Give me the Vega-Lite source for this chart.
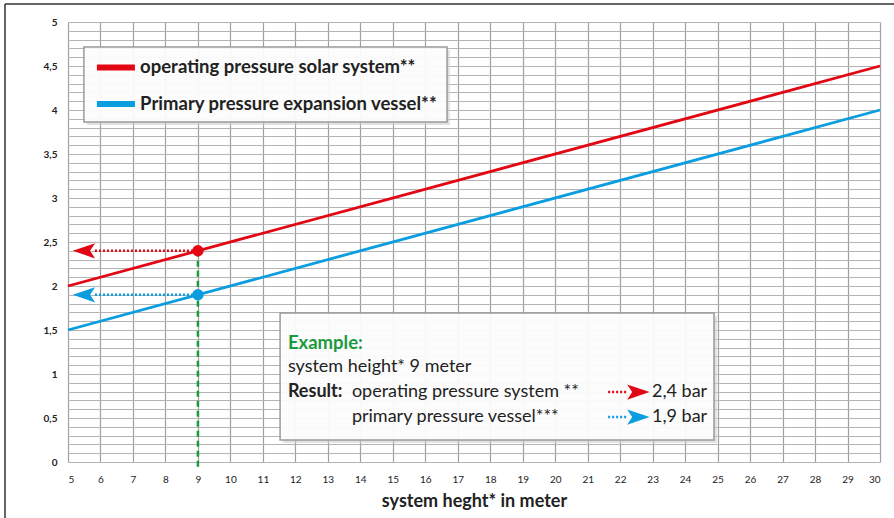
{
  "$schema": "https://vega.github.io/schema/vega-lite/v6.json",
  "width": 812,
  "height": 440,
  "autosize": {"type": "none"},
  "padding": {"left": 68, "top": 22, "right": 14, "bottom": 56},
  "background": "white",
  "config": {"font": "Lato", "view": {"stroke": null}},
  "encoding": {
    "x": {
      "field": "x", "type": "quantitative",
      "scale": {"domain": [5, 30], "nice": false, "zero": false},
      "axis": {
        "values": [5,6,7,8,9,10,11,12,13,14,15,16,17,18,19,20,21,22,23,24,25,26,27,28,29,30],
        "grid": true, "gridColor": "#a0a0a0", "gridWidth": 1.2,
        "ticks": false, "domain": false,
        "labelFontSize": 10, "labelColor": "#222", "labelPadding": 12,
        "title": "system heght* in meter", "titleFontSize": 18, "titleFontWeight": "bold",
        "titleColor": "#222", "titlePadding": 8
      }
    },
    "y": {
      "field": "y", "type": "quantitative",
      "scale": {"domain": [0, 5], "nice": false, "zero": false},
      "axis": {
        "values": [0,0.1,0.2,0.3,0.4,0.5,0.6,0.7,0.8,0.9,1,1.1,1.2,1.3,1.4,1.5,1.6,1.7,1.8,1.9,2,2.1,2.2,2.3,2.4,2.5,2.6,2.7,2.8,2.9,3,3.1,3.2,3.3,3.4,3.5,3.6,3.7,3.8,3.9,4,4.1,4.2,4.3,4.4,4.5,4.6,4.7,4.8,4.9,5],
        "labelExpr": "abs(datum.value*2 - round(datum.value*2)) < 0.001 ? replace(format(datum.value, '.1~f'), '.', ',') : ''",
        "grid": true, "gridColor": "#b4b4b4", "gridWidth": 1,
        "ticks": false, "domain": false,
        "labelFontSize": 10, "labelFontWeight": "bold", "labelColor": "#222", "labelPadding": 11,
        "title": null
      }
    }
  },
  "layer": [
    {
      "data": {"values": [{"x": 3.06, "y": 5.205, "y2": -0.8}]},
      "mark": {"type": "rule", "color": "#333", "strokeWidth": 1.5},
      "encoding": {"y2": {"field": "y2"}}
    },
    {
      "data": {"values": [{"x": 3.06, "x2": 31.5, "y": 5.205}]},
      "mark": {"type": "rule", "color": "#333", "strokeWidth": 1.5},
      "encoding": {"x2": {"field": "x2"}}
    },
    {
      "data": {"values": [
        {"x": 5.58, "x2": 16.76, "y": 4.682, "y2": 3.83},
        {"x": 11.62, "x2": 24.98, "y": 1.659, "y2": 0.216}
      ]},
      "mark": {"type": "rect", "fill": "#cfcfcf", "opacity": 0.6},
      "encoding": {"x2": {"field": "x2"}, "y2": {"field": "y2"}}
    },
    {
      "data": {"values": [
        {"x": 5.49, "x2": 16.67, "y": 4.716, "y2": 3.864},
        {"x": 11.53, "x2": 24.89, "y": 1.693, "y2": 0.25}
      ]},
      "mark": {"type": "rect", "fill": "white", "fillOpacity": 0.88, "stroke": "#9a9a9a", "strokeWidth": 1.5},
      "encoding": {"x2": {"field": "x2"}, "y2": {"field": "y2"}}
    },
    {
      "data": {"values": [
        {"x": 5, "y": 2.0, "s": "op"}, {"x": 30, "y": 4.5, "s": "op"},
        {"x": 5, "y": 1.5, "s": "pr"}, {"x": 30, "y": 4.0, "s": "pr"}
      ]},
      "mark": {"type": "line", "strokeWidth": 2.8},
      "encoding": {
        "color": {"field": "s", "type": "nominal", "scale": {"domain": ["op", "pr"], "range": ["#e30613", "#0a9ddf"]}, "legend": null}
      }
    },
    {
      "data": {"values": [
        {"x": 5.89, "x2": 7.06, "y": 4.483, "s": "op"},
        {"x": 5.89, "x2": 7.06, "y": 4.068, "s": "pr"}
      ]},
      "mark": {"type": "rule", "strokeWidth": 6},
      "encoding": {
        "x2": {"field": "x2"},
        "color": {"field": "s", "type": "nominal", "scale": {"domain": ["op", "pr"], "range": ["#e30613", "#0a9ddf"]}, "legend": null}
      }
    },
    {
      "data": {"values": [
        {"x": 7.22, "y": 4.483, "t": "operating pressure solar system**"},
        {"x": 7.22, "y": 4.068, "t": "Primary pressure expansion vessel**"}
      ]},
      "mark": {"type": "text", "align": "left", "baseline": "middle", "fontSize": 18.5, "fontWeight": "bold", "color": "#222"},
      "encoding": {"text": {"field": "t"}}
    },
    {
      "data": {"values": [{"x": 9, "y": 2.4, "y2": -0.09}]},
      "mark": {"type": "rule", "color": "#1a9a3e", "strokeWidth": 2.5, "strokeDash": [6, 4]},
      "encoding": {"y2": {"field": "y2"}}
    },
    {
      "data": {"values": [
        {"x": 5.83, "x2": 9, "y": 2.4, "s": "op"},
        {"x": 5.83, "x2": 9, "y": 1.9, "s": "pr"},
        {"x": 21.63, "x2": 22.22, "y": 0.795, "s": "op"},
        {"x": 21.63, "x2": 22.22, "y": 0.511, "s": "pr"}
      ]},
      "mark": {"type": "rule", "strokeWidth": 2.5, "strokeDash": [2, 2]},
      "encoding": {
        "x2": {"field": "x2"},
        "color": {"field": "s", "type": "nominal", "scale": {"domain": ["op", "pr"], "range": ["#e30613", "#0a9ddf"]}, "legend": null}
      }
    },
    {
      "data": {"values": [
        {"x": 5.49, "y": 2.4, "s": "op", "d": "left"},
        {"x": 5.49, "y": 1.9, "s": "pr", "d": "left"},
        {"x": 22.56, "y": 0.795, "s": "op", "d": "right"},
        {"x": 22.56, "y": 0.511, "s": "pr", "d": "right"}
      ]},
      "mark": {"type": "point", "filled": true, "opacity": 1, "size": 500},
      "encoding": {
        "shape": {"field": "d", "type": "nominal", "scale": {"domain": ["left", "right"], "range": ["M-1,0L1,-0.68L0.55,0L1,0.68Z", "M1,0L-1,-0.68L-0.55,0L-1,0.68Z"]}, "legend": null},
        "color": {"field": "s", "type": "nominal", "scale": {"domain": ["op", "pr"], "range": ["#e30613", "#0a9ddf"]}, "legend": null}
      }
    },
    {
      "data": {"values": [
        {"x": 9, "y": 2.4, "s": "op"},
        {"x": 9, "y": 1.9, "s": "pr"}
      ]},
      "mark": {"type": "circle", "size": 130, "opacity": 1},
      "encoding": {
        "color": {"field": "s", "type": "nominal", "scale": {"domain": ["op", "pr"], "range": ["#e30613", "#0a9ddf"]}, "legend": null}
      }
    },
    {
      "data": {"values": [{"x": 11.77, "y": 1.352, "t": "Example:"}]},
      "mark": {"type": "text", "align": "left", "baseline": "middle", "fontSize": 18.5, "fontWeight": "bold", "color": "#1a9a3e"},
      "encoding": {"text": {"field": "t"}}
    },
    {
      "data": {"values": [{"x": 11.77, "y": 0.795, "t": "Result:"}]},
      "mark": {"type": "text", "align": "left", "baseline": "middle", "fontSize": 18, "fontWeight": "bold", "color": "#222"},
      "encoding": {"text": {"field": "t"}}
    },
    {
      "data": {"values": [
        {"x": 11.77, "y": 1.08, "t": "system height* 9 meter"},
        {"x": 13.74, "y": 0.795, "t": "operating pressure system **"},
        {"x": 13.74, "y": 0.511, "t": "primary pressure vessel***"},
        {"x": 22.98, "y": 0.795, "t": "2,4 bar"},
        {"x": 22.98, "y": 0.511, "t": "1,9 bar"}
      ]},
      "mark": {"type": "text", "align": "left", "baseline": "middle", "fontSize": 18, "color": "#222"},
      "encoding": {"text": {"field": "t"}}
    }
  ]
}
